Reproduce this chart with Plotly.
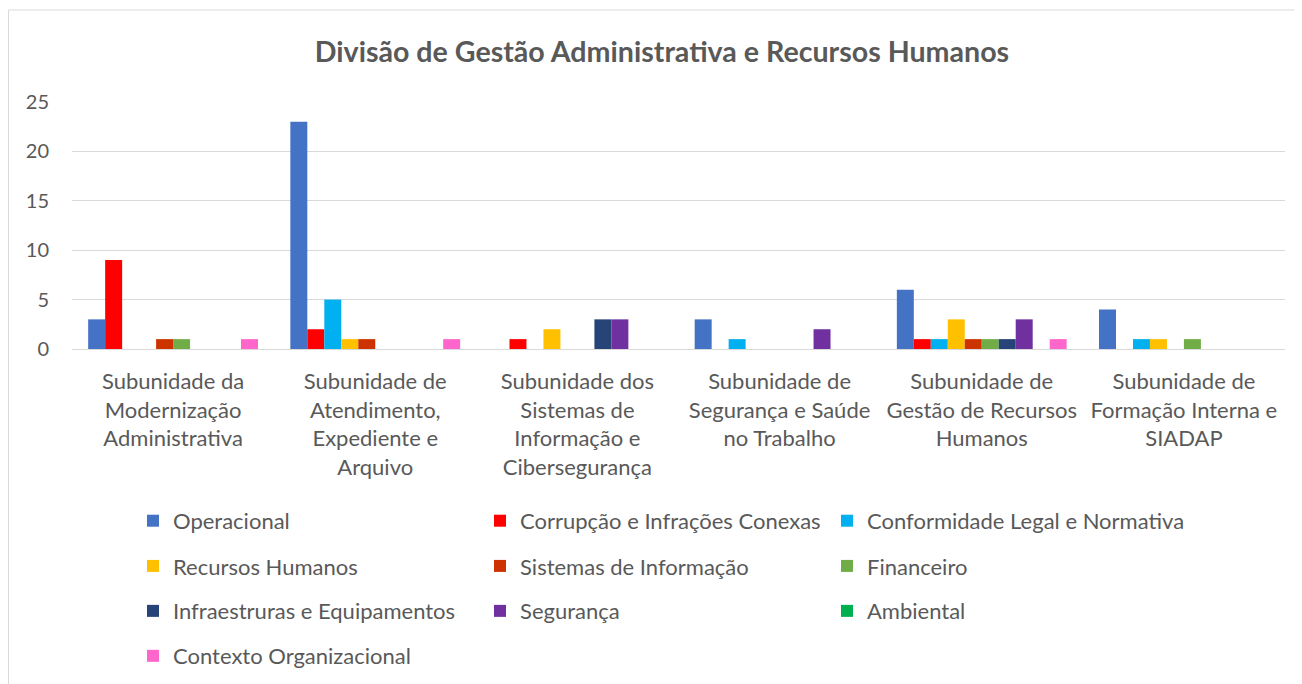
import plotly.graph_objects as go

categories = [
    "Subunidade da<br>Modernização<br>Administrativa",
    "Subunidade de<br>Atendimento,<br>Expediente e<br>Arquivo",
    "Subunidade dos<br>Sistemas de<br>Informação e<br>Cibersegurança",
    "Subunidade de<br>Segurança e Saúde<br>no Trabalho",
    "Subunidade de<br>Gestão de Recursos<br>Humanos",
    "Subunidade de<br>Formação Interna e<br>SIADAP",
]

operacional = [3, 23, 0, 3, 6, 4]
corrupcao = [9, 2, 1, 0, 1, 0]
conformidade = [0, 5, 0, 1, 1, 1]
recursos_humanos = [0, 1, 2, 0, 3, 1]
sistemas_informacao = [1, 1, 0, 0, 1, 0]
financeiro = [1, 0, 0, 0, 1, 1]
infraestruturas = [0, 0, 3, 0, 1, 0]
seguranca = [0, 0, 3, 2, 3, 0]
ambiental = [0, 0, 0, 0, 0, 0]
contexto = [1, 1, 0, 0, 1, 0]

series = [
    ("Operacional", operacional, "#4472C4"),
    ("Corrupção e Infrações Conexas", corrupcao, "#FF0000"),
    ("Conformidade Legal e Normativa", conformidade, "#00B0F0"),
    ("Recursos Humanos", recursos_humanos, "#FFC000"),
    ("Sistemas de Informação", sistemas_informacao, "#CC3300"),
    ("Financeiro", financeiro, "#70AD47"),
    ("Infraestruras e Equipamentos", infraestruturas, "#264478"),
    ("Segurança", seguranca, "#7030A0"),
    ("Ambiental", ambiental, "#00B050"),
    ("Contexto Organizacional", contexto, "#FF66CC"),
]

FONT = "Lato"
GREY = "#595959"

# legend laid out as 3 columns x 4 rows: columns 1-2 of each row share a
# legend, column 3 gets its own so long names are not clipped
legend_ids = ["legend", "legend", "legend2",
              "legend3", "legend3", "legend4",
              "legend5", "legend5", "legend6",
              "legend7"]

fig = go.Figure()
for (name, vals, color), lg in zip(series, legend_ids):
    fig.add_trace(go.Bar(
        x=categories, y=vals, name=name,
        marker=dict(color=color, line=dict(width=0)),
        legend=lg,
    ))

row_y = [-0.696, -0.879, -1.061, -1.243]
col_x = [0.0503, 0.0503 + 694 / 1213]


def leg(y, x, ew=302):
    d = dict(
        orientation="h", x=x, xanchor="left", y=y, yanchor="middle",
        font=dict(family=FONT, size=22, color=GREY),
        itemwidth=30, traceorder="normal",
    )
    if ew:
        d["entrywidth"] = ew
    return d


fig.update_layout(
    width=1302, height=684,
    margin=dict(l=64, r=25, t=94, b=343),
    paper_bgcolor="white", plot_bgcolor="white",
    barmode="group", bargap=0.16, bargroupgap=0,
    title=dict(
        text="<b>Divisão de Gestão Administrativa e Recursos Humanos</b>",
        x=654 / 1302, xanchor="center", y=1 - 44 / 684, yanchor="middle",
        yref="container",
        font=dict(family=FONT, size=28.6, color=GREY),
    ),
    font=dict(family=FONT, size=22, color=GREY),
    xaxis=dict(
        showgrid=False, showline=False, ticks="",
        tickfont=dict(family=FONT, size=22, color=GREY),
        ticklabelstandoff=17,
    ),
    yaxis=dict(
        range=[0, 25], dtick=5, showgrid=True, gridcolor="#D9D9D9",
        gridwidth=1, zeroline=True, zerolinecolor="#D9D9D9", zerolinewidth=1,
        showline=False, ticks="",
        tickfont=dict(family=FONT, size=20, color=GREY),
        ticklabelstandoff=22,
    ),
    legend=leg(row_y[0], col_x[0]),
    legend2=leg(row_y[0], col_x[1], None),
    legend3=leg(row_y[1], col_x[0]),
    legend4=leg(row_y[1], col_x[1], None),
    legend5=leg(row_y[2], col_x[0]),
    legend6=leg(row_y[2], col_x[1], None),
    legend7=leg(row_y[3], col_x[0]),
    shapes=[dict(
        type="rect", xref="paper", yref="paper",
        x0=-63.5 / 1213, x1=1.05, y0=-1.5, y1=(341 - 2) / 247,
        line=dict(color="#D9D9D9", width=1), fillcolor="rgba(0,0,0,0)",
        layer="below",
    )],
)

fig.write_html("out.html")
